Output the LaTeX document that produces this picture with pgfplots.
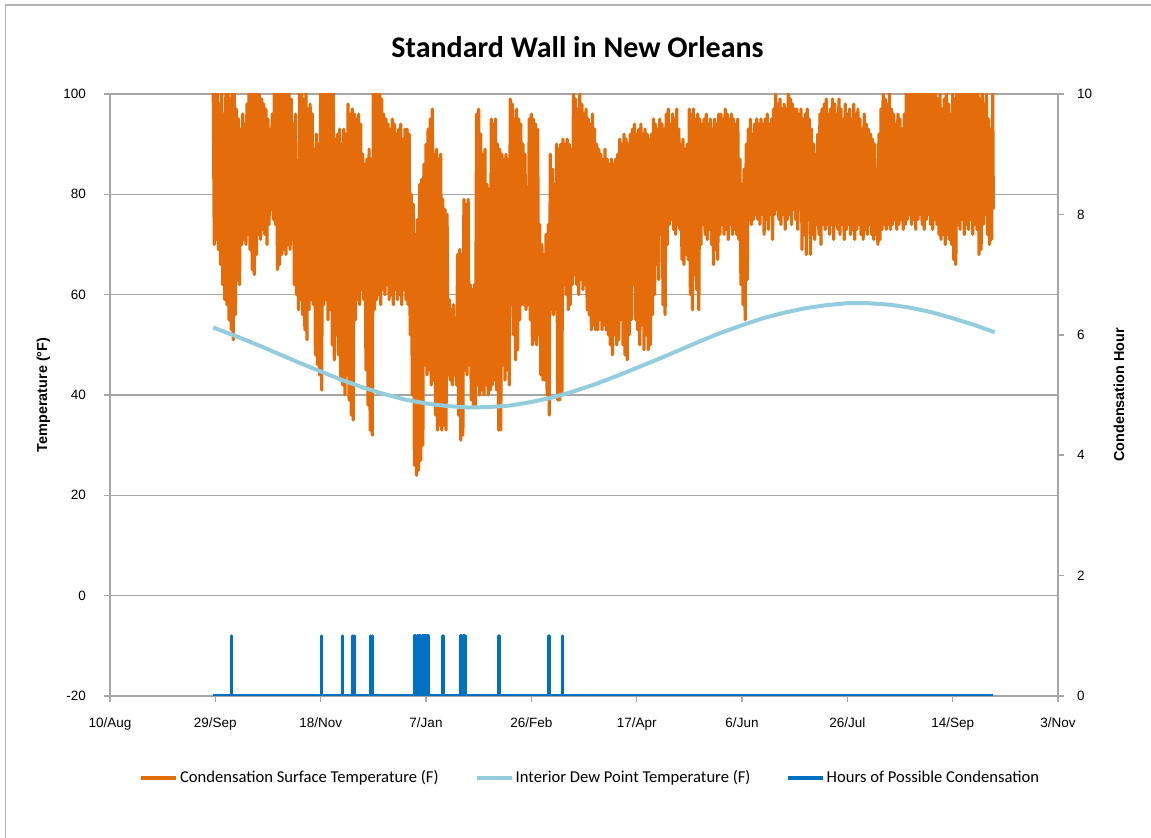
\documentclass[border=0pt]{standalone}
\usepackage{fontspec}
\usepackage{pgfplots}
\pgfplotsset{compat=1.18}
\setmainfont{Carlito}
\newfontfamily\arialf{Liberation Sans}
\definecolor{corange}{RGB}{228,108,10}
\definecolor{clight}{RGB}{147,205,221}
\definecolor{cblue}{RGB}{0,112,192}
\definecolor{cgrid}{RGB}{166,166,166}
\definecolor{cframe}{RGB}{180,180,180}
\begin{document}
\begin{tikzpicture}
\useasboundingbox (-55pt,-71pt) rectangle (520.5pt,348pt);
\draw[cframe, line width=0.9pt] (-52.25pt,-72pt) -- (-52.25pt,345.5pt) -- (521pt,345.5pt);
\node[font=\bfseries\fontsize{15}{18}\selectfont] at (233.75pt,324.5pt) {Standard Wall in New Orleans};
\begin{axis}[
 width=474pt, height=301pt, scale only axis,
 xmin=0, xmax=450, ymin=-20, ymax=100,
 axis x line*=bottom, axis y line*=left,
 axis line style={cgrid, line width=0.75pt, -},
 xtick={0,50,...,450},
 xticklabels={10/Aug,29/Sep,18/Nov,7/Jan,26/Feb,17/Apr,6/Jun,26/Jul,14/Sep,3/Nov},
 ytick={-20,0,...,100},
 ymajorgrids, grid style={cgrid, line width=0.75pt},
 tick align=outside, major tick length=3pt,
 tick style={cgrid, line width=0.75pt},
 tick label style={font=\arialf\fontsize{6.75}{8}\selectfont, /pgf/number format/assume math mode=true},
 xticklabel style={yshift=-4.5pt},
 yticklabel style={xshift=-5.5pt},
 ylabel={Temperature (°F)},
 ylabel style={font=\arialf\bfseries\fontsize{7.2}{9}\selectfont, at={(axis description cs:-0.0702,0.5)}, anchor=center},
 legend style={at={(axis description cs:0.5069,-0.1363)}, anchor=center, draw=none, legend columns=3, font=\fontsize{8.3}{10}\selectfont, /tikz/every even column/.append style={column sep=17pt}, nodes={inner sep=1pt}},
 legend image code/.code={\draw[#1] (0pt,0pt) -- (17.5pt,0pt);},
]
\addplot[corange, line width=1.6pt, line join=round] table[row sep=\\] {x y\\
49 102\\49.5 70\\50 100\\50.5 71\\51 104\\51.5 69\\52 98\\52.5 66\\53 101\\53.5 62\\
54 96\\54.5 59\\55 100\\55.5 58\\56 103\\56.5 55\\57 99\\57.5 53\\58 104\\58.5 51\\
59 100\\59.5 56\\60 97\\60.5 63\\61 95\\61.5 62\\62 93\\62.5 70\\63 96\\63.5 71\\
64 94\\64.5 70\\65 98\\65.5 72\\66 102\\66.5 69\\67 100\\67.5 65\\68 104\\68.5 64\\
69 101\\69.5 68\\70 103\\70.5 72\\71 100\\71.5 71\\72 99\\72.5 73\\73 98\\73.5 72\\
74 97\\74.5 70\\75 95\\75.5 74\\76 93\\76.5 77\\77 96\\77.5 75\\78 101\\78.5 74\\
79 103\\79.5 65\\80 100\\80.5 66\\81 104\\81.5 68\\82 102\\82.5 69\\83 100\\83.5 68\\
84 103\\84.5 70\\85 101\\85.5 69\\86 99\\86.5 71\\87 94\\87.5 62\\88 96\\88.5 60\\
89 82\\89.5 57\\90 101\\90.5 59\\91 103\\91.5 56\\92 99\\92.5 53\\93 102\\93.5 51\\
94 97\\94.5 57\\95 98\\95.5 59\\96 96\\96.5 58\\97 89\\97.5 48\\98 92\\98.5 46\\
99 90\\99.5 44\\100 102\\100.5 41\\101 104\\101.5 58\\102 100\\102.5 59\\103 102\\103.5 55\\
104 101\\104.5 57\\105 100\\105.5 50\\106 101\\106.5 47\\107 91\\107.5 52\\108 92\\108.5 48\\
109 93\\109.5 43\\110 90\\110.5 42\\111 93\\111.5 40\\112 92\\112.5 44\\113 98\\113.5 39\\
114 96\\114.5 36\\115 97\\115.5 35\\116 96\\116.5 55\\117 95\\117.5 59\\118 96\\118.5 58\\
119 94\\119.5 61\\120 88\\120.5 59\\121 86\\121.5 45\\122 87\\122.5 38\\123 89\\123.5 33\\
124 87\\124.5 32\\125 100\\125.5 57\\126 103\\126.5 59\\127 101\\127.5 60\\128 100\\128.5 58\\
129 99\\129.5 61\\130 96\\130.5 60\\131 95\\131.5 62\\132 94\\132.5 59\\133 93\\133.5 60\\
134 95\\134.5 58\\135 94\\135.5 61\\136 92\\136.5 59\\137 93\\137.5 60\\138 94\\138.5 58\\
139 91\\139.5 61\\140 93\\140.5 59\\141 93\\141.5 58\\142 92\\142.5 52\\143 80\\143.5 40\\
144 78\\144.5 26\\145 72\\145.5 24\\146 75\\146.5 25\\147 82\\147.5 27\\148 83\\148.5 30\\
149 86\\149.5 46\\150 90\\150.5 44\\151 93\\151.5 45\\152 95\\152.5 42\\153 97\\153.5 43\\
154 88\\154.5 36\\155 89\\155.5 33\\156 87\\156.5 34\\157 88\\157.5 33\\158 79\\158.5 34\\
159 77\\159.5 33\\160 76\\160.5 44\\161 59\\161.5 43\\162 57\\162.5 42\\163 58\\163.5 44\\
164 55\\164.5 42\\165 68\\165.5 36\\166 69\\166.5 31\\167 68\\167.5 32\\168 79\\168.5 45\\
169 78\\169.5 44\\170 79\\170.5 46\\171 62\\171.5 39\\172 61\\172.5 38\\173 62\\173.5 38\\
174 96\\174.5 42\\175 97\\175.5 40\\176 92\\176.5 41\\177 88\\177.5 40\\178 89\\178.5 42\\
179 82\\179.5 40\\180 81\\180.5 41\\181 95\\181.5 42\\182 94\\182.5 43\\183 95\\183.5 41\\
184 90\\184.5 33\\185 89\\185.5 33\\186 88\\186.5 46\\187 87\\187.5 43\\188 88\\188.5 45\\
189 87\\189.5 42\\190 99\\190.5 58\\191 98\\191.5 52\\192 95\\192.5 47\\193 97\\193.5 49\\
194 95\\194.5 55\\195 94\\195.5 58\\196 90\\196.5 58\\197 88\\197.5 57\\198 65\\198.5 58\\
199 95\\199.5 55\\200 96\\200.5 50\\201 95\\201.5 51\\202 94\\202.5 50\\203 93\\203.5 52\\
204 74\\204.5 44\\205 70\\205.5 43\\206 68\\206.5 43\\207 72\\207.5 40\\208 74\\208.5 36\\
209 88\\209.5 57\\210 85\\210.5 56\\211 82\\211.5 57\\212 90\\212.5 39\\213 89\\213.5 39\\
214 90\\214.5 40\\215 91\\215.5 62\\216 90\\216.5 60\\217 91\\217.5 57\\218 90\\218.5 58\\
219 89\\219.5 62\\220 100\\220.5 64\\221 99\\221.5 62\\222 97\\222.5 60\\223 100\\223.5 63\\
224 98\\224.5 61\\225 96\\225.5 62\\226 97\\226.5 57\\227 95\\227.5 56\\228 94\\228.5 53\\
229 96\\229.5 54\\230 93\\230.5 53\\231 90\\231.5 53\\232 89\\232.5 55\\233 88\\233.5 53\\
234 87\\234.5 54\\235 89\\235.5 53\\236 87\\236.5 52\\237 86\\237.5 50\\238 87\\238.5 48\\
239 86\\239.5 52\\240 87\\240.5 50\\241 88\\241.5 51\\242 91\\242.5 55\\243 90\\243.5 50\\
244 92\\244.5 48\\245 91\\245.5 47\\246 90\\246.5 52\\247 92\\247.5 55\\248 93\\248.5 62\\
249 94\\249.5 55\\250 92\\250.5 53\\251 93\\251.5 50\\252 94\\252.5 54\\253 92\\253.5 49\\
254 93\\254.5 52\\255 92\\255.5 49\\256 91\\256.5 50\\257 92\\257.5 56\\258 95\\258.5 60\\
259 94\\259.5 66\\260 93\\260.5 63\\261 95\\261.5 72\\262 94\\262.5 58\\263 93\\263.5 56\\
264 96\\264.5 70\\265 97\\265.5 74\\266 94\\266.5 75\\267 96\\267.5 73\\268 95\\268.5 72\\
269 97\\269.5 74\\270 93\\270.5 73\\271 90\\271.5 67\\272 91\\272.5 66\\273 89\\273.5 68\\
274 90\\274.5 67\\275 97\\275.5 60\\276 96\\276.5 57\\277 97\\277.5 64\\278 95\\278.5 61\\
279 96\\279.5 57\\280 95\\280.5 70\\281 94\\281.5 74\\282 95\\282.5 72\\283 96\\283.5 71\\
284 94\\284.5 73\\285 95\\285.5 70\\286 93\\286.5 66\\287 95\\287.5 69\\288 94\\288.5 67\\
289 96\\289.5 72\\290 96\\290.5 74\\291 95\\291.5 72\\292 97\\292.5 73\\293 96\\293.5 71\\
294 95\\294.5 74\\295 96\\295.5 72\\296 95\\296.5 73\\297 94\\297.5 72\\298 95\\298.5 71\\
299 87\\299.5 62\\300 82\\300.5 58\\301 85\\301.5 55\\302 90\\302.5 63\\303 93\\303.5 75\\
304 95\\304.5 74\\305 92\\305.5 75\\306 94\\306.5 76\\307 95\\307.5 75\\308 94\\308.5 74\\
309 95\\309.5 76\\310 94\\310.5 72\\311 95\\311.5 75\\312 96\\312.5 73\\313 94\\313.5 76\\
314 95\\314.5 71\\315 97\\315.5 76\\316 100\\316.5 77\\317 98\\317.5 75\\318 99\\318.5 74\\
319 97\\319.5 76\\320 98\\320.5 73\\321 97\\321.5 75\\322 101\\322.5 76\\323 99\\323.5 74\\
324 98\\324.5 77\\325 97\\325.5 75\\326 97\\326.5 73\\327 96\\327.5 77\\328 97\\328.5 69\\
329 95\\329.5 72\\330 96\\330.5 68\\331 97\\331.5 75\\332 95\\332.5 68\\333 93\\333.5 72\\
334 90\\334.5 71\\335 88\\335.5 74\\336 92\\336.5 72\\337 96\\337.5 70\\338 97\\338.5 74\\
339 98\\339.5 73\\340 99\\340.5 74\\341 96\\341.5 72\\342 97\\342.5 74\\343 99\\343.5 71\\
344 98\\344.5 74\\345 96\\345.5 73\\346 99\\346.5 72\\347 97\\347.5 74\\348 95\\348.5 71\\
349 98\\349.5 73\\350 96\\350.5 74\\351 97\\351.5 72\\352 95\\352.5 73\\353 98\\353.5 71\\
354 96\\354.5 73\\355 97\\355.5 74\\356 95\\356.5 72\\357 93\\357.5 71\\358 96\\358.5 73\\
359 94\\359.5 72\\360 93\\360.5 74\\361 92\\361.5 72\\362 91\\362.5 71\\363 90\\363.5 72\\
364 85\\364.5 70\\365 92\\365.5 71\\366 97\\366.5 73\\367 100\\367.5 74\\368 99\\368.5 73\\
369 98\\369.5 74\\370 101\\370.5 73\\371 97\\371.5 74\\372 96\\372.5 75\\373 94\\373.5 73\\
374 96\\374.5 74\\375 95\\375.5 75\\376 93\\376.5 73\\377 96\\377.5 74\\378 100\\378.5 75\\
379 102\\379.5 76\\380 101\\380.5 74\\381 103\\381.5 75\\382 100\\382.5 73\\383 104\\383.5 75\\
384 101\\384.5 76\\385 102\\385.5 74\\386 100\\386.5 73\\387 103\\387.5 75\\388 101\\388.5 76\\
389 102\\389.5 74\\390 100\\390.5 73\\391 103\\391.5 75\\392 101\\392.5 74\\393 99\\393.5 72\\
394 100\\394.5 71\\395 97\\395.5 72\\396 99\\396.5 70\\397 101\\397.5 72\\398 98\\398.5 71\\
399 96\\399.5 70\\400 100\\400.5 67\\401 99\\401.5 66\\402 101\\402.5 74\\403 103\\403.5 73\\
404 100\\404.5 75\\405 104\\405.5 72\\406 101\\406.5 74\\407 102\\407.5 73\\408 100\\408.5 75\\
409 103\\409.5 72\\410 101\\410.5 74\\411 102\\411.5 73\\412 100\\412.5 68\\413 99\\413.5 69\\
414 101\\414.5 74\\415 98\\415.5 76\\416 100\\416.5 72\\417 95\\417.5 70\\418 93\\418.5 71\\
419 100\\419.3 77\\
};
\addlegendentry{Condensation Surface Temperature (F)}
\addplot[clight, line width=2pt] coordinates {
(49,53.45)(60,51.7)(70,50.0)(80,48.2)(90,46.4)(100,44.7)(110,43.0)(120,41.5)(130,40.2)(140,39.1)
(150,38.3)(160,37.8)(170,37.5)(180,37.6)(190,37.9)(200,38.6)(210,39.5)(220,40.7)(230,42.1)(240,43.7)
(250,45.4)(260,47.1)(270,48.9)(280,50.7)(290,52.4)(300,53.9)(310,55.3)(320,56.4)(330,57.3)(340,57.9)
(350,58.3)(360,58.3)(370,58.0)(380,57.4)(390,56.5)(400,55.3)(410,54.0)(420,52.5)};
\addlegendentry{Interior Dew Point Temperature (F)}
\addlegendimage{cblue, line width=1.6pt}
\addlegendentry{Hours of Possible Condensation}
\end{axis}
\begin{axis}[
 width=474pt, height=301pt, scale only axis,
 xmin=0, xmax=450, ymin=0, ymax=10,
 axis y line*=right, axis x line=none,
 axis line style={cgrid, line width=0.75pt, -},
 ytick={0,2,...,10},
 tick align=outside, major tick length=3pt,
 tick style={cgrid, line width=0.75pt},
 tick label style={font=\arialf\fontsize{6.75}{8}\selectfont, /pgf/number format/assume math mode=true},
 yticklabel style={xshift=3pt},
 ylabel={Condensation Hour},
 ylabel style={font=\arialf\bfseries\fontsize{7.2}{9}\selectfont, at={(axis description cs:1.0643,0.5)}, anchor=center},
]
\addplot[cblue, line width=1.5pt, line join=round] coordinates {
(49,0)(57.8,0)(57.8,1)(57.8,0)(100.2,0)(100.2,1)(100.2,0)(110.5,0)(110.5,1)(110.5,0)
(115.1,0)(115.1,1)(115.1,0)(115.9,0)(115.9,1)(115.9,0)(123.6,0)(123.6,1)(123.6,0)(124.6,0)(124.6,1)(124.6,0)
(144.6,0)(144.6,1)(145.2,1)(145.2,0)(145.8,0)(145.8,1)(146.4,1)(146.4,0)(147.0,0)(147.0,1)(147.6,1)(147.6,0)
(148.2,0)(148.2,1)(148.8,1)(148.8,0)(149.4,0)(149.4,1)(150.0,1)(150.0,0)(150.6,0)(150.6,1)(151.2,1)(151.2,0)
(157.9,0)(157.9,1)(157.9,0)(158.4,0)(158.4,1)(158.4,0)
(166.4,0)(166.4,1)(167.0,1)(167.0,0)(167.6,0)(167.6,1)(168.2,1)(168.2,0)(168.7,0)(168.7,1)(168.7,0)
(184.4,0)(184.4,1)(184.4,0)(184.9,0)(184.9,1)(184.9,0)(208.0,0)(208.0,1)(208.0,0)(208.5,0)(208.5,1)(208.5,0)
(214.7,0)(214.7,1)(214.7,0)(419,0)};
\end{axis}
\end{tikzpicture}
\end{document}
